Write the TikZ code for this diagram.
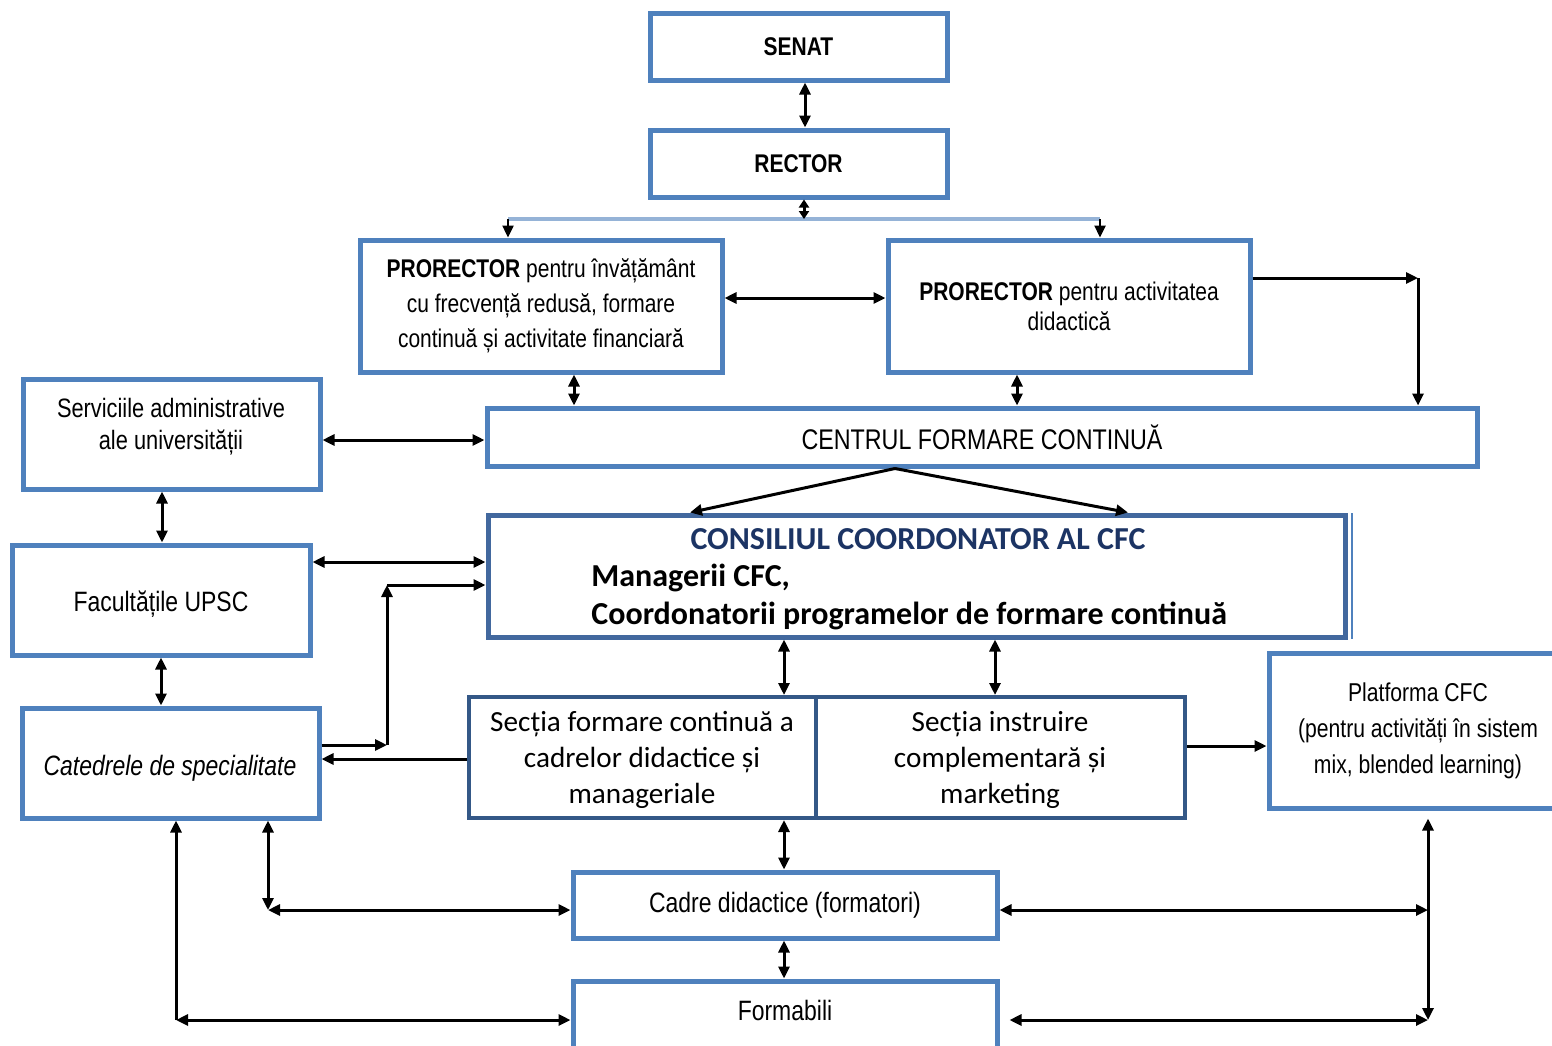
\documentclass[tikz,border=0pt]{standalone}
\usepackage{fontspec}
\setmainfont{Liberation Sans}[FakeStretch=0.82]
\newfontfamily\calfont{Carlito}
\usetikzlibrary{arrows.meta,calc}
\definecolor{bx}{RGB}{79,129,189}
\definecolor{bxd}{RGB}{52,88,135}
\definecolor{bxm}{RGB}{66,104,158}
\definecolor{lb}{RGB}{149,179,215}
\definecolor{navy}{RGB}{28,52,100}
\tikzset{
  area/.style n args={4}{minimum width={(#3-#1)*0.5pt}, minimum height={(#4-#2)*0.5pt}, at={({(#1+#3)/2},{(#2+#4)/2})}},
  box/.style={draw=bx, line width=2.5pt, inner sep=0pt, align=center},
  dbox/.style={draw=bxd, line width=2pt, inner sep=0pt, align=center},
  tip/.tip={Triangle[length=6pt,width=5.5pt]},
  con/.style={line width=1.5pt, -tip},
  bicon/.style={line width=1.5pt, tip-tip},
  nar/.style={font=\fontsize{12.8}{17.5}\selectfont},
  big/.style={font=\fontsize{14}{17}\selectfont},
  sect/.style={font=\calfont\fontsize{14.6}{17.8}\selectfont},
  lbl/.style={inner sep=0pt, align=center}
}
\begin{document}
\begin{tikzpicture}[x=0.5pt,y=-0.5pt]
\useasboundingbox[fill=white] (0,0) rectangle (1552,1045);
% boxes
\node (senat) [box, nar, area={650}{13}{947}{80}] {\bfseries SENAT};
\node (rector) [box, nar, area={650}{130}{947}{197}] {\bfseries RECTOR};
\node (p1) [box, nar, area={360}{240}{722}{372}] {{\bfseries PRORECTOR} pentru învățământ\\cu frecvență redusă, formare\\continuă și activitate financiară};
\node (p2) [box, font=\fontsize{12.8}{15}\selectfont, area={888}{240}{1250}{372}] {{\bfseries PRORECTOR} pentru activitatea\\didactică};
\node (cfc) [box, font=\fontsize{14.2}{17}\selectfont, area={487}{408}{1477}{466}] {CENTRUL FORMARE CONTINUĂ};
\node (serv) [box, area={23}{379}{320}{489}] {};
\node (servt) [lbl, font=\fontsize{13.3}{16}\selectfont] at (171,427) {Serviciile administrative\\ale universității};
\node (fac) [box, area={12}{545}{310}{655}] {};
\node (fact) [lbl, big] at (161,604) {Facultățile UPSC};
\node (cat) [box, area={22}{708}{319}{818}] {};
\node (catt) [lbl, big] at (170,768) {\itshape Catedrele de specialitate};
\node (cons) [draw=bxm, line width=2.5pt, inner sep=0pt, area={488}{515}{1345}{637}] {};
\draw[bx, line width=1pt] (1352,513) -- (1352,639);
\node (const) [lbl, text=navy, font=\calfont\bfseries\fontsize{16}{19}\selectfont] at (918,539) {CONSILIUL COORDONATOR AL CFC};
\node (consa) [lbl, anchor=west, font=\calfont\bfseries\fontsize{16}{19}\selectfont] at (591,578) {Managerii CFC,};
\node (consb) [lbl, anchor=west, font=\calfont\bfseries\fontsize{16}{19}\selectfont] at (591,616) {Coordonatorii programelor de formare continuă};
\node (s1) [dbox, area={469}{697}{816}{818}] {};
\node (s1t) [lbl, sect] at (642,760) {Secția formare continuă a\\cadrelor didactice și\\manageriale};
\node (s2) [dbox, area={816}{697}{1185}{818}] {};
\node (s2t) [lbl, sect] at (1000,760) {Secția instruire\\complementară și\\marketing};
\node (plat) [box, area={1269}{653}{1565}{808}] {};
\node (platt) [lbl, font=\fontsize{12.9}{18}\selectfont] at (1418,731) {Platforma CFC\\(pentru activități în sistem\\mix, blended learning)};
\node (cadre) [box, big, area={573}{872}{997}{938}] {Cadre didactice (formatori)};
\node (form) [box, area={573}{981}{997}{1060}] {};
\node (formt) [lbl, big] at (785,1010) {Formabili};
% coordinates
\coordinate (rb) at (804,219);
\coordinate (bl) at (508,219);
\coordinate (br) at (1100,219);
\coordinate (c1) at (1418,278);
\coordinate (sp) at (895,466);
\coordinate (k1) at (387,745);
\coordinate (k2) at (387,585);
\coordinate (k3) at (268,910);
\coordinate (k4) at (176,1020);
\coordinate (k5) at (1428,910);
\coordinate (k6) at (1428,1020);
% connectors
\draw[bicon] (senat.south -| 805,0) -- (rector.north -| 805,0);
\draw[lb, line width=2pt] (bl) -- (br);
\draw[line width=1.5pt, {Triangle[length=4pt,width=5pt]}-{Triangle[length=4pt,width=5pt]}] (rector.south -| rb) -- (rb);
\draw[con, line width=1.2pt] (bl) -- (p1.north -| bl);
\draw[con, line width=1.2pt] (br) -- (p2.north -| br);
\draw[bicon] (p1.east |- 0,298) -- (p2.west |- 0,298);
\draw[line width=1.5pt, -tip] (p2.east |- c1) -- (c1);
\draw[con] (c1) -- (cfc.north -| c1);
\draw[bicon] (p1.south -| 574,0) -- (cfc.north -| 574,0);
\draw[bicon] (p2.south -| 1017,0) -- (cfc.north -| 1017,0);
\draw[bicon] (serv.east |- 0,440) -- (cfc.west |- 0,440);
\draw[con] (cfc.south -| sp) -- (cons.north -| 690,0);
\draw[con] (cfc.south -| sp) -- (cons.north -| 1128,0);
\draw[bicon] (serv.south -| 162,0) -- (fac.north -| 162,0);
\draw[bicon] (fac.east |- 0,562) -- (cons.west |- 0,562);
\draw[bicon] (fac.south -| 161,0) -- (cat.north -| 161,0);
\draw[con] (cat.east |- k1) -- (k1);
\draw[con] (k1) -- (k2);
\draw[con] (k2) -- (cons.west |- k2);
\draw[con] (s1.west |- 0,759) -- (cat.east |- 0,759);
\draw[bicon] (cons.south -| 784,0) -- (s1.north -| 784,0);
\draw[bicon] (cons.south -| 995,0) -- (s2.north -| 995,0);
\draw[con] (s2.east |- 0,746) -- (plat.west |- 0,746);
\draw[bicon] (s1.south -| 784,0) -- (cadre.north -| 784,0);
\draw[bicon] (cadre.south -| 784,0) -- (form.north -| 784,0);
\draw[bicon] (cat.south -| k3) -- (k3);
\draw[bicon] (k3) -- (cadre.west |- k3);
\draw[con] (k4) -- (cat.south -| k4);
\draw[bicon] (k4) -- (form.west |- k4);
\draw[bicon, shorten <=4pt] (plat.south -| k5) -- (k6);
\draw[bicon] (cadre.east |- k5) -- (k5);
\draw[bicon, shorten <=5pt] (form.east |- k6) -- (k6);
\end{tikzpicture}
\end{document}
